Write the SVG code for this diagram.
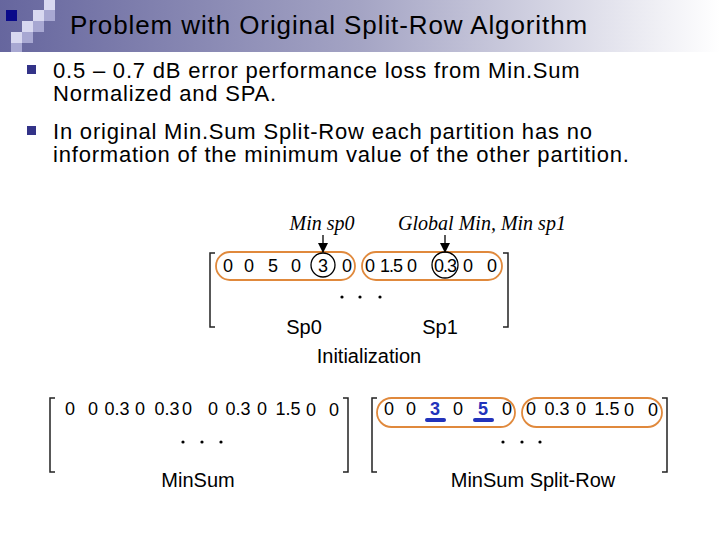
<svg xmlns="http://www.w3.org/2000/svg" width="720" height="540" viewBox="0 0 720 540">
<defs>
<linearGradient id="hdr" x1="0" y1="0" x2="1" y2="0">
<stop offset="0" stop-color="#66669e"/>
<stop offset="0.5" stop-color="#a4a4c4"/>
<stop offset="1" stop-color="#ffffff"/>
</linearGradient>
<marker id="ah" markerWidth="10" markerHeight="10" refX="9" refY="5" orient="auto" markerUnits="userSpaceOnUse" viewBox="0 0 10 10">
<path d="M0,0 L10,5 L0,10 Z" fill="#000"/>
</marker>
</defs>
<style>
.t{font-family:"Liberation Sans",Arial,sans-serif;fill:#000}
.b{font-size:22px;letter-spacing:0.8px}
.n{font-size:18px;text-anchor:middle}
.tight{letter-spacing:-1px}
.lab{font-size:20px;text-anchor:middle}
.it{font-family:"Liberation Serif","Times New Roman",serif;font-style:italic;font-size:20px;text-anchor:middle}
.part{fill:none;stroke:#e0893c;stroke-width:1.8}
.brk{fill:none;stroke:#222;stroke-width:1.5}
.blue{fill:#2233bb;font-weight:bold}
.ul{stroke:#2233bb;stroke-width:4;stroke-linecap:round}
</style>
<rect width="720" height="540" fill="#fff"/>
<g id="header">
<rect x="0" y="0" width="720" height="52" fill="url(#hdr)"/>
<rect x="6" y="10" width="11" height="11" fill="#0a0a8a"/>
<rect x="44" y="0" width="11" height="10" fill="#d8d8f0"/>
<rect x="44" y="10" width="11" height="11" fill="#a8a8d2"/>
<rect x="33" y="10" width="11" height="11" fill="#d8d8f0"/>
<rect x="33" y="21" width="11" height="11" fill="#a8a8d2"/>
<rect x="22" y="21" width="11" height="11" fill="#d8d8f0"/>
<rect x="22" y="32" width="11" height="11" fill="#a8a8d2"/>
<rect x="11" y="32" width="11" height="11" fill="#d8d8f0"/>
<rect x="11" y="43" width="11" height="9" fill="#a8a8d2"/>
<text class="t" x="70" y="34" font-size="26" letter-spacing="0.9">Problem with Original Split-Row Algorithm</text>
</g>
<g id="bullets">
<rect x="27" y="65" width="9" height="9" fill="#333388"/>
<rect x="27" y="126" width="9" height="9" fill="#333388"/>
<text class="t b" x="53" y="78">0.5 – 0.7 dB error performance loss from Min.Sum</text>
<text class="t b" x="53" y="101">Normalized and SPA.</text>
<text class="t b" x="53" y="139">In original Min.Sum Split-Row each partition has no</text>
<text class="t b" x="53" y="162">information of the minimum value of the other partition.</text>
</g>
<g id="init">
<text class="it" x="322" y="230">Min sp0</text>
<text class="it" x="482" y="230">Global Min, Min sp1</text>
<path class="brk" d="M215,253 H210 V327 H215"/>
<path class="brk" d="M503,253 H508 V327 H503"/>
<rect class="part" x="216" y="252" width="139" height="28" rx="14"/>
<rect class="part" x="362" y="252" width="140" height="28" rx="14"/>
<circle cx="323" cy="265" r="12" fill="none" stroke="#000" stroke-width="1.3"/>
<circle cx="445" cy="265" r="13" fill="none" stroke="#000" stroke-width="1.3"/>
<g class="t n">
<text x="228" y="271.5">0</text><text x="249" y="271.5">0</text><text x="273" y="271.5">5</text><text x="296" y="271.5">0</text><text x="323" y="271.5">3</text><text x="347" y="271.5">0</text>
<text x="370" y="271.5">0</text><text class="tight" x="391" y="271.5">1.5</text><text x="412" y="271.5">0</text><text class="tight" x="445" y="271.5">0.3</text><text x="468" y="271.5">0</text><text x="492" y="271.5">0</text>
</g>
<circle cx="342" cy="297" r="1.6" fill="#000"/><circle cx="360" cy="297" r="1.6" fill="#000"/><circle cx="380" cy="297" r="1.6" fill="#000"/>
<text class="t lab" x="304" y="334">Sp0</text>
<text class="t lab" x="440" y="334">Sp1</text>
<text class="t lab" x="369" y="363">Initialization</text>
</g>
<g id="connectors">
<line x1="323" y1="235" x2="323" y2="252" stroke="#000" stroke-width="1.3" marker-end="url(#ah)"/>
<line x1="445" y1="235" x2="445" y2="252" stroke="#000" stroke-width="1.3" marker-end="url(#ah)"/>
</g>
<g id="minsum">
<path class="brk" d="M55,398 H50 V472 H55"/>
<path class="brk" d="M343,398 H348 V472 H343"/>
<g class="t n">
<text x="70" y="415">0</text><text x="93" y="415">0</text><text x="117" y="415">0.3</text><text x="140" y="415">0</text><text x="167" y="415">0.3</text><text x="187" y="415">0</text>
<text x="213" y="415">0</text><text x="238" y="415">0.3</text><text x="262" y="415">0</text><text x="288" y="415">1.5</text><text x="311" y="416">0</text><text x="334" y="416">0</text>
</g>
<circle cx="183" cy="442" r="1.6" fill="#000"/><circle cx="202" cy="442" r="1.6" fill="#000"/><circle cx="221" cy="442" r="1.6" fill="#000"/>
<text class="t lab" x="198" y="487">MinSum</text>
</g>
<g id="splitrow">
<path class="brk" d="M377,398 H372 V472 H377"/>
<path class="brk" d="M662,398 H667 V472 H662"/>
<rect class="part" x="377" y="398" width="138" height="29" rx="14.5"/>
<rect class="part" x="522" y="398" width="140" height="29" rx="14.5"/>
<g class="t n">
<text x="389" y="415">0</text><text x="411" y="415">0</text><text class="blue" x="435" y="415">3</text><text x="458" y="415">0</text><text class="blue" x="483" y="415">5</text><text x="507" y="415">0</text>
<text x="531" y="415">0</text><text x="557" y="415">0.3</text><text x="581" y="415">0</text><text x="607" y="415">1.5</text><text x="629" y="416">0</text><text x="653" y="416">0</text>
</g>
<line class="ul" x1="427" y1="420" x2="444" y2="420"/>
<line class="ul" x1="475" y1="420" x2="492" y2="420"/>
<circle cx="503" cy="442" r="1.6" fill="#000"/><circle cx="522" cy="442" r="1.6" fill="#000"/><circle cx="540" cy="442" r="1.6" fill="#000"/>
<text class="t lab" x="533" y="487">MinSum Split-Row</text>
</g>
</svg>
